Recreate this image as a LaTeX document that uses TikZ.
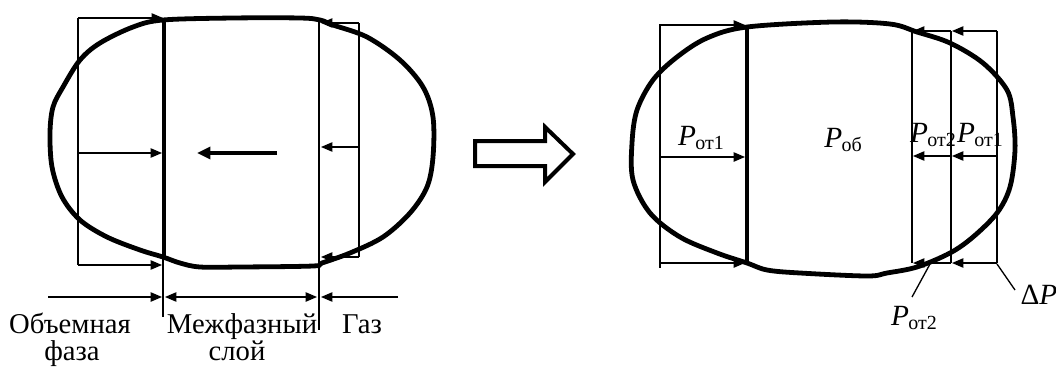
\documentclass[tikz,border=0pt]{standalone}
\usepackage{fontspec}
\setmainfont{Liberation Serif}
\usetikzlibrary{arrows.meta}
\newcommand{\Psub}[1]{\textit{P}\kern-0.5pt\raisebox{-3pt}{\fontsize{15pt}{15pt}\selectfont #1}}
\tikzset{
  thinln/.style={line width=1pt},
  blob/.style={line width=3.6pt, line join=round},
  thickln/.style={line width=3.3pt},
  arr/.style={line width=1pt, -{Triangle[length=8.5pt,width=7pt]}},
  darr/.style={line width=1pt, {Triangle[length=8.5pt,width=7pt]}-{Triangle[length=8.5pt,width=7pt]}},
  lbl/.style={font=\fontsize{21.5pt}{22pt}\selectfont, inner sep=0pt, anchor=base},
  mlbl/.style={font=\fontsize{22pt}{24pt}\selectfont, inner sep=0pt, anchor=base}
}
\begin{document}
\begin{tikzpicture}[x=0.75pt,y=-0.75pt]
\useasboundingbox (0,0) rectangle (1056,368);
% ---------- left figure ----------
\draw[blob] plot[smooth cycle, tension=0.55] coordinates {
 (163,20) (133,27) (100,43) (80,60) (63,87) (53,107) (50,133) (52,167) (62,197) (80,220)
 (107,237) (140,250) (163,257) (180,263) (200,267) (240,267) (313,266) (322,263)
 (350,253) (383,237) (410,213) (427,187) (433,157) (433,117) (423,87) (400,60) (367,37)
 (333,25) (320,20) (300,18) (233,18)};
\draw[thickln] (164,20) -- (164,258);
\coordinate (LT) at (78,18); \coordinate (LM) at (78,153); \coordinate (LB) at (78,265);
\coordinate (LTe) at (163,18); \coordinate (LMe) at (162,153); \coordinate (LBe) at (162,265);
\draw[thinln] (LT) -- (LB);
\draw[arr] (LT) -- (LTe);
\draw[arr] (LM) -- (LMe);
\draw[arr] (LB) -- (LBe);
\draw[thinln] (319,21) -- (319,330);
\draw[thinln] (163,258) -- (163,317);
\coordinate (RT) at (359,23); \coordinate (RM) at (359,147); \coordinate (RB) at (359,257);
\coordinate (RTe) at (321,23); \coordinate (RMe) at (321,147); \coordinate (RBe) at (321,257);
\draw[thinln] (RT) -- (RB);
\draw[arr] (RT) -- (RTe);
\draw[arr] (RM) -- (RMe);
\draw[arr] (RB) -- (RBe);
\coordinate (CA) at (277,153); \coordinate (CB) at (197,153);
\draw[line width=2.4pt, -{Triangle[length=10pt,width=9pt]}] (CA) -- (CB);
\coordinate (D0) at (48,297); \coordinate (D1) at (162,297);
\coordinate (D2) at (165,297); \coordinate (D3) at (317,297);
\coordinate (D4) at (398,297); \coordinate (D5) at (321,297);
\draw[arr] (D0) -- (D1);
\draw[darr] (D2) -- (D3);
\draw[arr] (D4) -- (D5);
\node[lbl] (t1a) at (70,333) {Объемная};
\node[lbl] (t1b) at (72,360) {фаза};
\node[lbl] (t2a) at (242,333) {Межфазный};
\node[lbl] (t2b) at (237,360) {слой};
\node[lbl] (t3) at (362,333) {Газ};
% ---------- hollow arrow ----------
\draw[line width=3pt, line join=miter] (475,141) -- (545,141) -- (545,127) -- (573,154) -- (545,182) -- (545,166) -- (475,166) -- cycle;
% ---------- right figure ----------
\draw[blob] plot[smooth cycle, tension=0.55] coordinates {
 (747,27) (833,22) (890,24) (917,32) (950,43) (983,63) (1007,90) (1013,117) (1015,150)
 (1010,187) (997,213) (973,237) (950,253) (917,267) (887,273) (867,276) (800,273)
 (767,270) (747,263) (717,253) (680,237) (650,213) (633,180) (632,143) (637,110)
 (653,80) (677,57) (707,38)};
\draw[thickln] (747,28) -- (747,263);
\coordinate (PT) at (660,24); \coordinate (PM) at (660,157); \coordinate (PB) at (660,268);
\coordinate (PTe) at (745,25); \coordinate (PMe) at (745,157); \coordinate (PBe) at (745,263);
\draw[thinln] (PT) -- (PB);
\draw[arr] (660,25) -- (PTe);
\draw[arr] (PM) -- (PMe);
\draw[arr] (660,263) -- (PBe);
\draw[thinln] (912,31) -- (912,263);
\draw[thinln] (951,31) -- (951,263);
\draw[thinln] (997,31) -- (997,263);
\foreach \yy in {31,156,263}{
  \draw[arr] (997,\yy) -- (952,\yy);
  \draw[arr] (951,\yy) -- (913,\yy);
}
\node[mlbl] (p1) at (701,145) {\Psub{от1}};
\node[mlbl] (p0) at (843,147) {\Psub{об}};
\node[mlbl] (p2) at (933,142) {\Psub{от2}};
\node[mlbl] (p3) at (980,142) {\Psub{от1}};
\node[mlbl] (p4) at (914,325) {\Psub{от2}};
\node[mlbl] (dp) at (1039,304) {Δ\textit{P}};
\coordinate (L1a) at (930,264); \coordinate (L1b) at (912,297);
\coordinate (L2a) at (997,264); \coordinate (L2b) at (1015,290);
\draw[thinln] (L1a) -- (L1b);
\draw[thinln] (L2a) -- (L2b);
\end{tikzpicture}
\end{document}
